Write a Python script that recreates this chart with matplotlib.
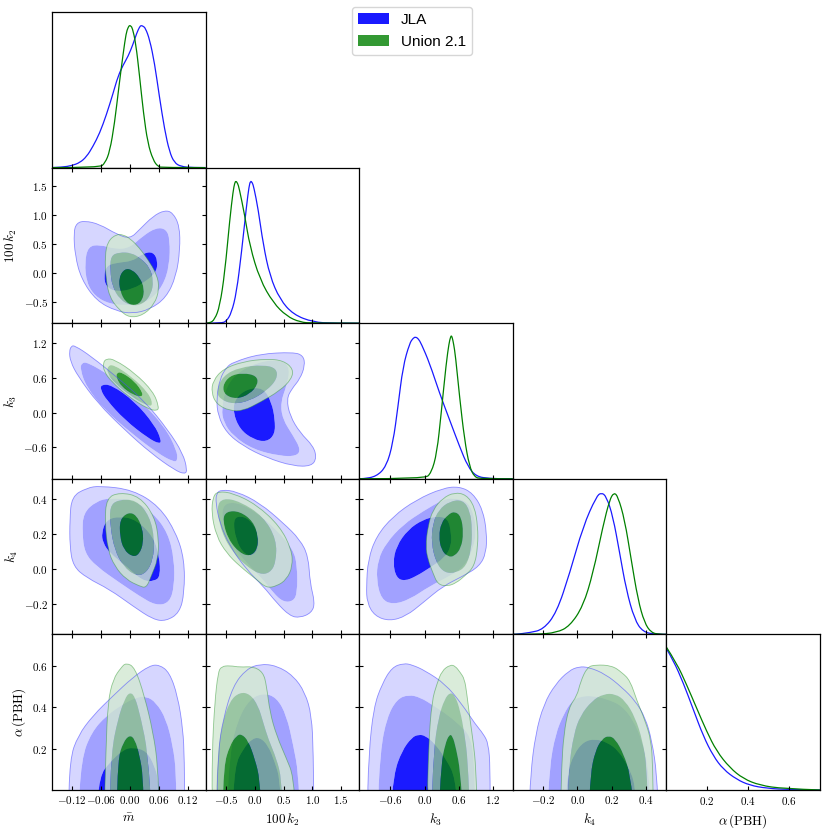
import numpy as np
import matplotlib
matplotlib.use('Agg')
import matplotlib.pyplot as plt
from matplotlib.path import Path
from matplotlib.patches import PathPatch, Patch

plt.rcParams['mathtext.fontset'] = 'cm'
plt.rcParams['font.family'] = ['DejaVu Sans']

# parameters: labels, plot ranges and ticks
param_labels = [r'$\bar{m}$', r'$100\,k_2$', r'$k_3$', r'$k_4$', r'$\alpha\,(\mathrm{PBH})$']
param_limits = [(-0.162, 0.157), (-0.855, 1.81), (-1.15, 1.55), (-0.375, 0.516), (0.0, 0.753)]
param_ticks = [[-0.12, -0.06, 0.0, 0.06, 0.12],
               [-0.5, 0.0, 0.5, 1.0, 1.5],
               [-0.6, 0.0, 0.6, 1.2],
               [-0.2, 0.0, 0.2, 0.4],
               [0.2, 0.4, 0.6]]
param_ticklabels = [[r'$-0.12$', r'$-0.06$', r'$0.00$', r'$0.06$', r'$0.12$'],
                    [r'$-0.5$', r'$0.0$', r'$0.5$', r'$1.0$', r'$1.5$'],
                    [r'$-0.6$', r'$0.0$', r'$0.6$', r'$1.2$'],
                    [r'$-0.2$', r'$0.0$', r'$0.2$', r'$0.4$'],
                    [r'$0.2$', r'$0.4$', r'$0.6$']]
chain_names = ['JLA', 'Union 2.1']

# 1D marginals, (value, normalised density)
M_1D_JLA = [(-0.162, 0.0), (-0.140, 0.003), (-0.121, 0.014), (-0.104, 0.035), (-0.090, 0.078),
            (-0.077, 0.149), (-0.063, 0.243), (-0.049, 0.373), (-0.035, 0.526), (-0.025, 0.644),
            (-0.014, 0.727), (-0.004, 0.786), (0.006, 0.869), (0.014, 0.951), (0.020, 0.995),
            (0.023, 1.005), (0.027, 1.0), (0.032, 0.987), (0.041, 0.904), (0.051, 0.739), (0.061, 0.503),
            (0.072, 0.267), (0.082, 0.113), (0.092, 0.035), (0.106, 0.007), (0.130, 0.0), (0.157, 0.0)]
M_1D_UNION = [(-0.162, 0.0), (-0.063, 0.0), (-0.052, 0.031), (-0.042, 0.113), (-0.032, 0.314),
              (-0.023, 0.574), (-0.014, 0.810), (-0.008, 0.951), (-0.004, 0.99), (-0.001, 1.006),
              (0.002, 1.0), (0.005, 0.987), (0.012, 0.881), (0.020, 0.644), (0.028, 0.385), (0.037, 0.172),
              (0.048, 0.054), (0.058, 0.007), (0.068, 0.0), (0.157, 0.0)]
K2_1D_JLA = [(-0.855, 0.0), (-0.580, 0.0), (-0.493, 0.014), (-0.406, 0.073), (-0.319, 0.215),
             (-0.232, 0.498), (-0.145, 0.829), (-0.100, 0.97), (-0.075, 1.006), (-0.045, 0.995),
             (-0.017, 0.96), (0.058, 0.805), (0.145, 0.557), (0.261, 0.333), (0.435, 0.168),
             (0.667, 0.061), (1.014, 0.007), (1.362, 0.0), (1.81, 0.0)]
K2_1D_UNION = [(-0.855, 0.0), (-0.783, 0.0), (-0.696, 0.026), (-0.609, 0.120), (-0.522, 0.356),
               (-0.435, 0.734), (-0.377, 0.935), (-0.350, 0.99), (-0.330, 1.006), (-0.300, 0.99),
               (-0.272, 0.955), (-0.174, 0.758), (-0.087, 0.545), (0.087, 0.309), (0.319, 0.144),
               (0.551, 0.050), (0.783, 0.007), (1.014, 0.0), (1.81, 0.0)]
K3_1D_JLA = [(-1.15, 0.0), (-1.082, 0.0), (-0.848, 0.016), (-0.673, 0.087), (-0.556, 0.252),
             (-0.468, 0.511), (-0.380, 0.794), (-0.263, 0.959), (-0.200, 0.995), (-0.158, 1.003),
             (-0.110, 0.99), (-0.058, 0.955), (0.088, 0.817), (0.263, 0.605), (0.439, 0.417),
             (0.614, 0.229), (0.760, 0.087), (0.906, 0.016), (1.140, 0.002), (1.433, 0.0), (1.55, 0.0)]
K3_1D_UNION = [(-1.15, 0.0), (0.0, 0.0), (0.117, 0.040), (0.216, 0.181), (0.292, 0.464),
               (0.380, 0.817), (0.430, 0.96), (0.455, 1.0), (0.470, 1.012), (0.485, 1.0),
               (0.510, 0.955), (0.544, 0.865), (0.614, 0.582), (0.702, 0.276),
               (0.789, 0.087), (0.877, 0.012), (0.994, 0.0), (1.55, 0.0)]
K4_1D_JLA = [(-0.375, 0.0), (-0.362, 0.0), (-0.276, 0.012), (-0.198, 0.035), (-0.121, 0.153),
             (-0.044, 0.435), (0.033, 0.764), (0.110, 0.975), (0.139, 1.003), (0.168, 0.975),
             (0.206, 0.834), (0.245, 0.576), (0.283, 0.317), (0.331, 0.106), (0.380, 0.016),
             (0.457, 0.0), (0.516, 0.0)]
K4_1D_UNION = [(-0.375, 0.0), (-0.237, 0.0), (-0.121, 0.012), (-0.044, 0.059), (0.033, 0.200),
               (0.091, 0.435), (0.148, 0.764), (0.187, 0.952), (0.212, 1.003), (0.235, 0.975),
               (0.274, 0.811), (0.312, 0.529), (0.351, 0.247), (0.389, 0.082), (0.428, 0.012),
               (0.476, 0.0), (0.516, 0.0)]
ALPHA_1D_JLA = [(0.0, 1.0), (0.034, 0.917), (0.083, 0.757), (0.132, 0.569), (0.181, 0.381),
                (0.230, 0.240), (0.279, 0.146), (0.344, 0.075), (0.409, 0.033), (0.491, 0.012),
                (0.605, 0.002), (0.753, 0.0)]
ALPHA_1D_UNION = [(0.0, 1.01), (0.050, 0.898), (0.099, 0.745), (0.148, 0.580), (0.197, 0.416),
                  (0.246, 0.275), (0.311, 0.157), (0.377, 0.080), (0.458, 0.033), (0.573, 0.009),
                  (0.753, 0.0)]

# 2D contours (outer, middle, inner), vertices as (x param, y param)
M_K2_JLA = [
    [(-0.117, 0.70), (-0.114, 0.30), (-0.101, -0.10), (-0.070, -0.47), (-0.028, -0.65), (0.006, -0.69),
     (0.041, -0.62), (0.075, -0.42), (0.096, -0.05), (0.104, 0.41), (0.103, 0.81), (0.089, 1.04),
     (0.072, 1.08), (0.048, 0.98), (0.020, 0.75), (0.000, 0.59), (-0.028, 0.67), (-0.063, 0.84),
     (-0.094, 0.90), (-0.111, 0.86)],
    [(-0.094, 0.18), (-0.090, -0.16), (-0.073, -0.39), (-0.042, -0.53), (0.006, -0.55), (0.041, -0.47),
     (0.068, -0.22), (0.082, 0.13), (0.083, 0.58), (0.075, 0.76), (0.054, 0.78), (0.027, 0.64),
     (0.000, 0.44), (-0.028, 0.41), (-0.063, 0.49), (-0.087, 0.46)],
    [(-0.054, -0.05), (-0.049, 0.13), (-0.028, 0.18), (0.006, 0.21), (0.027, 0.34), (0.048, 0.37),
     (0.058, 0.21), (0.054, 0.01), (0.034, -0.13), (0.006, -0.27), (-0.028, -0.32), (-0.050, -0.23)],
]
M_K2_UNION = [
    [(-0.028, 0.67), (-0.046, 0.55), (-0.052, 0.30), (-0.050, -0.10), (-0.042, -0.42), (-0.021, -0.64),
     (-0.001, -0.76), (0.027, -0.72), (0.051, -0.53), (0.061, -0.27), (0.056, -0.02), (0.037, 0.24),
     (0.019, 0.44), (0.001, 0.59), (-0.014, 0.66)],
    [(-0.040, 0.30), (-0.041, 0.05), (-0.037, -0.22), (-0.021, -0.45), (0.003, -0.56), (0.027, -0.53),
     (0.044, -0.36), (0.049, -0.13), (0.041, 0.10), (0.023, 0.25), (0.003, 0.35), (-0.022, 0.36)],
    [(-0.011, 0.08), (-0.023, -0.07), (-0.021, -0.30), (-0.009, -0.50), (0.010, -0.56), (0.026, -0.47),
     (0.030, -0.26), (0.020, -0.07), (0.005, 0.06)],
]
M_K3_JLA = [
    [(-0.126, 1.064), (-0.122, 1.151), (-0.115, 1.163), (-0.081, 0.977), (-0.025, 0.599), (0.031, 0.192),
     (0.079, -0.302), (0.110, -0.709), (0.119, -1.0), (0.114, -1.07), (0.093, -1.0), (0.044, -0.709),
     (-0.011, -0.302), (-0.067, 0.163), (-0.108, 0.628), (-0.124, 0.890)],
    [(-0.103, 0.744), (-0.101, 0.860), (-0.088, 0.872), (-0.039, 0.628), (0.017, 0.25), (0.072, -0.244),
     (0.097, -0.651), (0.099, -0.837), (0.090, -0.855), (0.058, -0.709), (0.003, -0.36), (-0.053, 0.047),
     (-0.091, 0.453)],
    [(-0.061, 0.395), (-0.060, 0.483), (-0.039, 0.483), (0.010, 0.192), (0.051, -0.215), (0.065, -0.477),
     (0.062, -0.547), (0.038, -0.448), (-0.011, -0.128), (-0.049, 0.221)],
]
M_K3_UNION = [
    [(-0.056, 0.860), (-0.049, 0.936), (-0.032, 0.919), (0.010, 0.686), (0.048, 0.366), (0.060, 0.105),
     (0.057, 0.029), (0.038, 0.058), (-0.004, 0.279), (-0.039, 0.541), (-0.054, 0.715)],
    [(-0.047, 0.802), (-0.035, 0.837), (0.003, 0.628), (0.039, 0.337), (0.048, 0.134), (0.038, 0.105),
     (0.003, 0.279), (-0.032, 0.512), (-0.047, 0.686)],
    [(-0.028, 0.686), (-0.018, 0.703), (0.010, 0.541), (0.027, 0.337), (0.024, 0.267), (0.006, 0.308),
     (-0.018, 0.453), (-0.028, 0.599)],
]
K2_K3_JLA = [
    [(-0.377, 0.873), (0.087, 1.018), (0.667, 1.047), (0.841, 0.989), (0.870, 0.814), (0.783, 0.582),
     (0.638, 0.407), (0.551, 0.233), (0.609, -0.058), (0.783, -0.349), (1.014, -0.582), (1.072, -0.785),
     (0.986, -0.931), (0.667, -0.931), (0.203, -0.785), (-0.203, -0.582), (-0.493, -0.349),
     (-0.638, -0.058), (-0.667, 0.233), (-0.609, 0.582), (-0.493, 0.785)],
    [(-0.580, 0.058), (-0.493, 0.465), (-0.261, 0.727), (0.145, 0.902), (0.493, 0.902), (0.609, 0.756),
     (0.551, 0.465), (0.446, 0.175), (0.481, -0.116), (0.667, -0.407), (0.794, -0.640), (0.725, -0.756),
     (0.435, -0.756), (-0.029, -0.640), (-0.377, -0.407), (-0.539, -0.175)],
    [(-0.377, 0.0), (-0.348, 0.233), (-0.145, 0.407), (0.145, 0.436), (0.290, 0.175), (0.348, -0.116),
     (0.348, -0.378), (0.203, -0.512), (-0.029, -0.465), (-0.261, -0.291)],
]
K2_K3_UNION = [
    [(-0.754, 0.349), (-0.725, 0.553), (-0.551, 0.756), (-0.203, 0.884), (0.203, 0.931), (0.493, 0.902),
     (0.667, 0.756), (0.638, 0.582), (0.435, 0.378), (0.087, 0.175), (-0.203, 0.029), (-0.435, 0.029),
     (-0.667, 0.145)],
    [(-0.667, 0.378), (-0.551, 0.640), (-0.261, 0.785), (0.145, 0.826), (0.377, 0.768), (0.388, 0.582),
     (0.203, 0.378), (-0.087, 0.204), (-0.377, 0.145), (-0.609, 0.233)],
    [(-0.562, 0.465), (-0.435, 0.640), (-0.203, 0.686), (0.029, 0.640), (0.058, 0.494), (-0.087, 0.320),
     (-0.319, 0.233), (-0.522, 0.302)],
]
M_K4_JLA = [
    [(-0.121, 0.415), (-0.090, 0.463), (-0.063, 0.476), (0.006, 0.453), (0.061, 0.358), (0.096, 0.206),
     (0.113, 0.053), (0.113, -0.137), (0.103, -0.251), (0.075, -0.299), (0.048, -0.290), (0.006, -0.213),
     (-0.042, -0.118), (-0.090, -0.051), (-0.118, 0.015), (-0.125, 0.130), (-0.125, 0.282)],
    [(-0.097, 0.320), (-0.070, 0.387), (-0.042, 0.406), (0.006, 0.396), (0.048, 0.320), (0.079, 0.206),
     (0.092, 0.053), (0.092, -0.099), (0.082, -0.194), (0.054, -0.210), (0.020, -0.156), (-0.021, -0.080),
     (-0.070, 0.015), (-0.094, 0.091), (-0.099, 0.206)],
    [(-0.059, 0.206), (-0.049, 0.282), (-0.021, 0.301), (0.013, 0.282), (0.048, 0.187), (0.061, 0.072),
     (0.063, -0.042), (0.051, -0.070), (0.027, -0.070), (-0.008, 0.015), (-0.042, 0.091), (-0.056, 0.149)],
]
M_K4_UNION = [
    [(-0.049, 0.406), (-0.021, 0.438), (0.020, 0.415), (0.051, 0.301), (0.060, 0.168), (0.058, 0.053),
     (0.044, -0.042), (0.034, -0.109), (0.020, -0.099), (-0.008, -0.061), (-0.032, 0.015), (-0.046, 0.110),
     (-0.052, 0.263)],
    [(-0.042, 0.358), (-0.025, 0.396), (0.013, 0.396), (0.041, 0.301), (0.051, 0.168), (0.048, 0.053),
     (0.034, -0.023), (0.013, -0.042), (-0.014, 0.015), (-0.032, 0.110), (-0.041, 0.244)],
    [(-0.021, 0.282), (-0.004, 0.324), (0.013, 0.310), (0.026, 0.234), (0.028, 0.149), (0.019, 0.082),
     (0.005, 0.069), (-0.013, 0.110), (-0.021, 0.187)],
]
K2_K4_JLA = [
    [(-0.667, 0.434), (-0.580, 0.453), (-0.319, 0.444), (0.087, 0.377), (0.493, 0.263), (0.783, 0.168),
     (0.928, 0.072), (0.957, -0.080), (1.043, -0.194), (0.986, -0.251), (0.783, -0.280), (0.609, -0.270),
     (0.377, -0.194), (0.145, -0.099), (-0.145, -0.004), (-0.435, 0.130), (-0.609, 0.263), (-0.678, 0.377)],
    [(-0.580, 0.358), (-0.377, 0.387), (-0.029, 0.339), (0.377, 0.225), (0.667, 0.110), (0.736, 0.015),
     (0.736, -0.137), (0.667, -0.185), (0.493, -0.190), (0.319, -0.137), (0.145, -0.061), (-0.145, 0.034),
     (-0.377, 0.130), (-0.539, 0.244)],
    [(-0.377, 0.282), (-0.261, 0.305), (-0.087, 0.282), (0.058, 0.206), (0.058, 0.110), (-0.058, 0.072),
     (-0.203, 0.091), (-0.330, 0.168)],
]
K2_K4_UNION = [
    [(-0.725, 0.415), (-0.638, 0.444), (-0.377, 0.434), (0.029, 0.368), (0.435, 0.244), (0.638, 0.110),
     (0.655, 0.015), (0.551, -0.061), (0.377, -0.099), (0.203, -0.109), (0.029, -0.061), (-0.261, 0.015),
     (-0.493, 0.091), (-0.667, 0.187), (-0.754, 0.320)],
    [(-0.667, 0.358), (-0.551, 0.406), (-0.261, 0.387), (0.145, 0.301), (0.377, 0.168), (0.365, 0.034),
     (0.261, -0.023), (0.087, -0.032), (-0.145, 0.015), (-0.377, 0.091), (-0.580, 0.206)],
    [(-0.562, 0.282), (-0.493, 0.330), (-0.261, 0.330), (-0.029, 0.272), (0.058, 0.187), (0.041, 0.110),
     (-0.087, 0.072), (-0.261, 0.091), (-0.464, 0.168)],
]
K3_K4_JLA = [
    [(-1.023, -0.099), (-0.994, 0.053), (-0.848, 0.187), (-0.556, 0.301), (-0.146, 0.396), (0.322, 0.463),
     (0.614, 0.472), (0.848, 0.434), (1.023, 0.339), (1.094, 0.206), (1.082, 0.091), (0.965, 0.015),
     (0.673, -0.042), (0.322, -0.099), (-0.029, -0.194), (-0.322, -0.270), (-0.614, -0.299),
     (-0.877, -0.270), (-1.012, -0.194)],
    [(-0.848, -0.061), (-0.819, 0.053), (-0.673, 0.149), (-0.380, 0.253), (-0.029, 0.330), (0.322, 0.396),
     (0.497, 0.406), (0.760, 0.387), (0.877, 0.301), (0.906, 0.206), (0.848, 0.110), (0.702, 0.015),
     (0.439, -0.042), (0.088, -0.099), (-0.263, -0.175), (-0.556, -0.204), (-0.760, -0.175)],
    [(-0.556, 0.034), (-0.497, 0.130), (-0.292, 0.225), (-0.029, 0.282), (0.205, 0.301), (0.409, 0.291),
     (0.468, 0.206), (0.468, 0.130), (0.351, 0.063), (0.088, 0.006), (-0.146, -0.042), (-0.351, -0.070),
     (-0.497, -0.051)],
]
K3_K4_UNION = [
    [(0.018, 0.130), (0.058, 0.244), (0.146, 0.339), (0.322, 0.406), (0.526, 0.438), (0.731, 0.425),
     (0.877, 0.358), (0.936, 0.244), (0.936, 0.130), (0.877, 0.015), (0.702, -0.042), (0.556, -0.080),
     (0.409, -0.099), (0.234, -0.090), (0.146, -0.023), (0.058, 0.053)],
    [(0.117, 0.149), (0.146, 0.263), (0.251, 0.339), (0.439, 0.387), (0.673, 0.396), (0.801, 0.330),
     (0.836, 0.225), (0.819, 0.110), (0.731, 0.015), (0.556, -0.023), (0.351, -0.023), (0.205, 0.034)],
    [(0.251, 0.187), (0.292, 0.263), (0.409, 0.310), (0.526, 0.330), (0.643, 0.301), (0.684, 0.206),
     (0.643, 0.120), (0.526, 0.072), (0.409, 0.069), (0.292, 0.110)],
]
M_ALPHA_JLA = [
    [(-0.128, -0.15), (-0.125, 0.150), (-0.108, 0.263), (-0.077, 0.360), (-0.035, 0.456), (0.006, 0.545),
     (0.041, 0.602), (0.061, 0.606), (0.082, 0.569), (0.099, 0.456), (0.110, 0.295), (0.113, 0.150),
     (0.114, -0.15)],
    [(-0.108, -0.15), (-0.101, 0.150), (-0.080, 0.279), (-0.049, 0.360), (-0.014, 0.416), (0.013, 0.448),
     (0.034, 0.453), (0.054, 0.424), (0.075, 0.344), (0.089, 0.215), (0.096, 0.085), (0.096, -0.15)],
    [(-0.071, -0.15), (-0.063, 0.069), (-0.042, 0.134), (-0.014, 0.195), (0.006, 0.206), (0.034, 0.190),
     (0.051, 0.118), (0.060, 0.037), (0.063, -0.15)],
]
M_ALPHA_UNION = [
    [(-0.054, -0.15), (-0.050, 0.182), (-0.046, 0.424), (-0.035, 0.537), (-0.018, 0.594), (-0.008, 0.615),
     (0.010, 0.594), (0.030, 0.456), (0.048, 0.279), (0.058, 0.118), (0.061, -0.15)],
    [(-0.043, -0.15), (-0.039, 0.182), (-0.025, 0.344), (-0.011, 0.440), (-0.001, 0.473), (0.010, 0.456),
     (0.023, 0.344), (0.037, 0.182), (0.046, -0.15)],
    [(-0.028, -0.15), (-0.025, 0.150), (-0.014, 0.231), (-0.001, 0.266), (0.010, 0.247), (0.020, 0.166),
     (0.027, 0.069), (0.029, -0.15)],
]
K2_ALPHA_JLA = [
    [(-0.667, -0.15), (-0.638, 0.182), (-0.551, 0.344), (-0.377, 0.505), (-0.145, 0.585), (0.087, 0.610),
     (0.377, 0.602), (0.667, 0.553), (0.870, 0.473), (0.986, 0.360), (1.014, 0.182), (1.026, -0.15)],
    [(-0.493, -0.15), (-0.435, 0.182), (-0.290, 0.344), (-0.087, 0.440), (0.145, 0.469), (0.377, 0.448),
     (0.551, 0.360), (0.667, 0.215), (0.754, 0.085), (0.783, -0.15)],
    [(-0.394, -0.15), (-0.348, 0.118), (-0.203, 0.198), (-0.058, 0.247), (0.087, 0.255), (0.232, 0.215),
     (0.348, 0.134), (0.435, 0.053), (0.464, -0.15)],
]
K2_ALPHA_UNION = [
    [(-0.742, -0.15), (-0.742, 0.182), (-0.696, 0.424), (-0.638, 0.569), (-0.580, 0.598), (-0.435, 0.602),
     (-0.261, 0.594), (-0.029, 0.598), (0.145, 0.569), (0.203, 0.505), (0.261, 0.376), (0.377, 0.263),
     (0.551, 0.150), (0.667, 0.069), (0.713, -0.15)],
    [(-0.678, -0.15), (-0.655, 0.150), (-0.580, 0.311), (-0.435, 0.432), (-0.261, 0.473), (-0.087, 0.465),
     (0.058, 0.408), (0.145, 0.327), (0.232, 0.247), (0.377, 0.150), (0.464, 0.053), (0.481, -0.15)],
    [(-0.562, -0.15), (-0.539, 0.118), (-0.435, 0.215), (-0.319, 0.263), (-0.232, 0.271), (-0.116, 0.239),
     (0.0, 0.150), (0.087, 0.053), (0.116, -0.15)],
]
K3_ALPHA_JLA = [
    [(-1.012, -0.15), (-0.982, 0.174), (-0.895, 0.400), (-0.749, 0.513), (-0.573, 0.594), (-0.368, 0.613),
     (-0.222, 0.606), (0.012, 0.577), (0.363, 0.513), (0.655, 0.416), (0.889, 0.319), (1.035, 0.271),
     (1.123, 0.223), (1.152, 0.110), (1.152, -0.15)],
    [(-0.836, -0.15), (-0.778, 0.190), (-0.661, 0.352), (-0.485, 0.440), (-0.281, 0.461), (-0.076, 0.448),
     (0.158, 0.408), (0.421, 0.360), (0.626, 0.311), (0.801, 0.263), (0.877, 0.142), (0.889, -0.15)],
    [(-0.602, -0.15), (-0.544, 0.077), (-0.398, 0.190), (-0.222, 0.255), (-0.105, 0.268), (0.012, 0.263),
     (0.187, 0.223), (0.392, 0.142), (0.538, 0.061), (0.596, -0.15)],
]
K3_ALPHA_UNION = [
    [(0.041, -0.15), (0.070, 0.223), (0.129, 0.432), (0.216, 0.513), (0.304, 0.577), (0.450, 0.606),
     (0.538, 0.600), (0.626, 0.569), (0.702, 0.537), (0.743, 0.465), (0.801, 0.335), (0.860, 0.223),
     (0.901, 0.110), (0.930, -0.15)],
    [(0.117, -0.15), (0.158, 0.190), (0.246, 0.352), (0.351, 0.440), (0.450, 0.473), (0.538, 0.456),
     (0.626, 0.384), (0.702, 0.271), (0.760, 0.142), (0.801, -0.15)],
    [(0.246, -0.15), (0.292, 0.126), (0.363, 0.223), (0.433, 0.268), (0.491, 0.263), (0.556, 0.198),
     (0.626, 0.094), (0.684, -0.15)],
]
K4_ALPHA_JLA = [
    [(-0.281, -0.15), (-0.272, 0.077), (-0.243, 0.271), (-0.195, 0.416), (-0.127, 0.513), (-0.050, 0.577),
     (0.008, 0.597), (0.066, 0.594), (0.162, 0.561), (0.258, 0.497), (0.335, 0.432), (0.393, 0.352),
     (0.432, 0.239), (0.461, 0.077), (0.470, -0.15)],
    [(-0.175, -0.15), (-0.162, 0.110), (-0.127, 0.271), (-0.079, 0.368), (-0.031, 0.432), (0.017, 0.452),
     (0.085, 0.456), (0.171, 0.440), (0.258, 0.408), (0.326, 0.335), (0.374, 0.239), (0.412, 0.110),
     (0.428, -0.15)],
    [(-0.069, -0.15), (-0.060, 0.077), (-0.021, 0.174), (0.037, 0.235), (0.104, 0.247), (0.171, 0.231),
     (0.239, 0.190), (0.297, 0.110), (0.335, 0.029), (0.345, -0.15)],
]
K4_ALPHA_UNION = [
    [(-0.098, -0.15), (-0.092, 0.110), (-0.079, 0.271), (-0.050, 0.400), (-0.002, 0.456), (0.017, 0.521),
     (0.056, 0.594), (0.104, 0.606), (0.200, 0.602), (0.258, 0.569), (0.306, 0.529), (0.345, 0.432),
     (0.393, 0.335), (0.428, 0.239), (0.437, 0.110), (0.441, -0.15)],
    [(-0.060, -0.15), (-0.050, 0.110), (-0.021, 0.271), (0.017, 0.360), (0.085, 0.432), (0.152, 0.465),
     (0.220, 0.465), (0.277, 0.432), (0.335, 0.352), (0.378, 0.239), (0.403, 0.110), (0.408, -0.15)],
    [(0.066, -0.15), (0.075, 0.077), (0.104, 0.190), (0.143, 0.247), (0.181, 0.263), (0.220, 0.247),
     (0.268, 0.174), (0.306, 0.077), (0.335, -0.15)],
]

marginals = [(M_1D_JLA, M_1D_UNION), (K2_1D_JLA, K2_1D_UNION), (K3_1D_JLA, K3_1D_UNION),
             (K4_1D_JLA, K4_1D_UNION), (ALPHA_1D_JLA, ALPHA_1D_UNION)]
contours = {
    (1, 0): (M_K2_JLA, M_K2_UNION),
    (2, 0): (M_K3_JLA, M_K3_UNION), (2, 1): (K2_K3_JLA, K2_K3_UNION),
    (3, 0): (M_K4_JLA, M_K4_UNION), (3, 1): (K2_K4_JLA, K2_K4_UNION), (3, 2): (K3_K4_JLA, K3_K4_UNION),
    (4, 0): (M_ALPHA_JLA, M_ALPHA_UNION), (4, 1): (K2_ALPHA_JLA, K2_ALPHA_UNION),
    (4, 2): (K3_ALPHA_JLA, K3_ALPHA_UNION), (4, 3): (K4_ALPHA_JLA, K4_ALPHA_UNION),
}

fill_colors = [
    [(0.84, 0.84, 1.0, 1.0), (0.63, 0.63, 1.0, 1.0), (0.1, 0.1, 1.0, 1.0)],
    [(0.82, 0.91, 0.82, 0.8), (0.55, 0.76, 0.55, 0.8), (0.0, 0.5, 0.0, 0.8)],
]
edge_colors = [(0.3, 0.3, 1.0, 0.6), (0.2, 0.6, 0.2, 0.5)]
line_colors = [(0.1, 0.1, 1.0), (0.0, 0.5, 0.0)]


def _loop(points, ccw):
    pts = np.asarray(points, dtype=float)
    area = np.sum(pts[:, 0] * np.roll(pts[:, 1], -1) - np.roll(pts[:, 0], -1) * pts[:, 1])
    if (area > 0) != ccw:
        pts = pts[::-1]
    mids = (pts + np.roll(pts, -1, axis=0)) / 2
    verts = [mids[-1]]
    codes = [Path.MOVETO]
    for p, m in zip(pts, mids):
        verts += [p, m]
        codes += [Path.CURVE3, Path.CURVE3]
    verts.append(mids[-1])
    codes.append(Path.CLOSEPOLY)
    return verts, codes


def region_path(outer, hole=None):
    verts, codes = _loop(outer, True)
    if hole is not None:
        v2, c2 = _loop(hole, False)
        verts += v2
        codes += c2
    return Path(verts, codes)


def line_path(points):
    pts = np.asarray(points, dtype=float)
    verts = [pts[0]]
    codes = [Path.MOVETO]
    for i in range(1, len(pts) - 1):
        end = pts[i + 1] if i == len(pts) - 2 else (pts[i] + pts[i + 1]) / 2
        verts += [pts[i], end]
        codes += [Path.CURVE3, Path.CURVE3]
    return Path(verts, codes)


fig = plt.figure(figsize=(8.29, 8.34), dpi=100)
gs = fig.add_gridspec(5, 5, left=0.0627, right=0.9891, bottom=0.0528, top=0.9856,
                      wspace=0, hspace=0)

for i in range(5):
    for j in range(i + 1):
        ax = fig.add_subplot(gs[i, j])
        if i == j:
            for k, pts in enumerate(marginals[i]):
                ax.add_patch(PathPatch(line_path(pts), fill=False, ec=line_colors[k], lw=0.9))
            ax.set_ylim(0, 1.1)
            ax.set_yticks([])
            ax.tick_params(direction='in', length=3, width=0.8, top=False, left=False, right=False)
        else:
            for k, levels in enumerate(contours[(i, j)]):
                for n in range(3):
                    hole = levels[n + 1] if n < 2 else None
                    ax.add_patch(PathPatch(region_path(levels[n], hole), fc=fill_colors[k][n],
                                           ec='none', lw=0))
            for k, levels in enumerate(contours[(i, j)]):
                ax.add_patch(PathPatch(region_path(levels[0]), fill=False, ec=edge_colors[k], lw=0.6))
            ax.set_ylim(param_limits[i])
            ax.set_yticks(param_ticks[i])
            if j == 0:
                ax.set_yticklabels(param_ticklabels[i], fontsize=8)
                ax.set_ylabel(param_labels[i], fontsize=9.5, labelpad=3)
            else:
                ax.set_yticklabels([])
            ax.tick_params(direction='in', length=3, width=0.8, top=True, right=True, pad=3)
        ax.set_xlim(param_limits[j])
        ax.set_xticks(param_ticks[j])
        if i == 4:
            ax.set_xticklabels(param_ticklabels[j], fontsize=8)
            ax.set_xlabel(param_labels[j], fontsize=9.5)
        else:
            ax.set_xticklabels([])
        for sp in ax.spines.values():
            sp.set_linewidth(0.9)

handles = [Patch(fc=fill_colors[0][2], ec='none'), Patch(fc=fill_colors[1][2], ec='none')]
fig.legend(handles, chain_names, loc='upper left', bbox_to_anchor=(0.4246, 0.9916),
           borderaxespad=0, prop={'family': 'Liberation Sans', 'size': 11})

fig.savefig('out.png', dpi=100)
